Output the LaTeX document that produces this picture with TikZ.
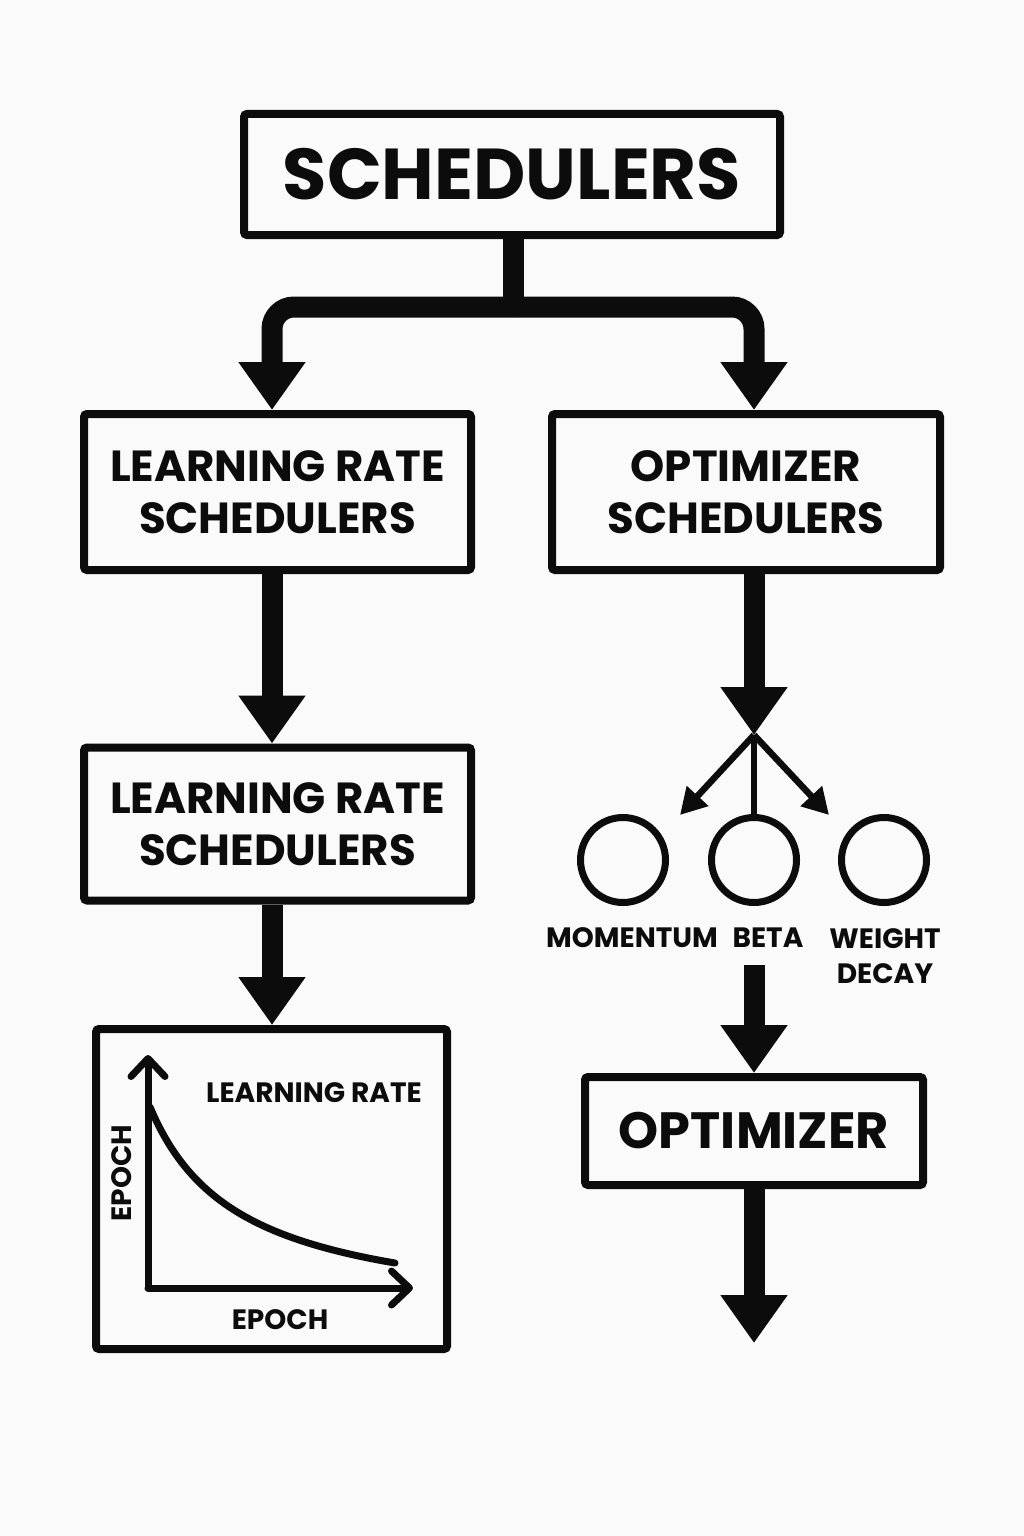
\documentclass[tikz,border=0pt]{standalone}
\usepackage{fontspec}
\setmainfont{Poppins}
\usetikzlibrary{arrows.meta,calc}
\definecolor{bg}{RGB}{250,250,250}
\definecolor{ink}{RGB}{12,12,12}
\tikzset{
  box/.style={draw=ink, line width=8pt, rounded corners=3pt, align=center, inner sep=0pt, text=ink},
  bigarrow/.style={draw=ink, line width=21pt, -{Triangle[length=48pt,width=64pt]}},
  bigline/.style={draw=ink, line width=21pt},
  smallarrow/.style={draw=ink, line width=6.5pt, -{Triangle[length=26pt,width=28pt]}},
  smallline/.style={draw=ink, line width=6.5pt},
  ring/.style={circle, draw=ink, line width=7pt, minimum size=85pt, inner sep=0pt},
  lbl/.style={text=ink, align=center, inner sep=0pt, font=\fontsize{28}{35}\selectfont\bfseries},
  axis/.style={draw=ink, line width=7pt, line cap=round, line join=round, -{Straight Barb[length=18pt,width=34pt,round]}},
  boxtext/.style={font=\fontsize{43.5}{52}\selectfont\bfseries}
}
\begin{document}
\begin{tikzpicture}[x=1pt,y=-1pt]
\useasboundingbox (0,0) rectangle (1024,1536);
\fill[bg] (0,0) rectangle (1024,1536);

% named coordinates
\coordinate (j) at (513,307);
\coordinate (lx) at (272,0);
\coordinate (rx) at (754,0);
\coordinate (hub) at (754,735);
\coordinate (la) at (680,815);
\coordinate (ra) at (829,815);
\coordinate (s2) at (754,965);
\coordinate (endp) at (754,1343);

% boxes
\node[box, minimum width=536pt, minimum height=121pt, font=\fontsize{72}{80}\selectfont\bfseries] (top) at (512,174.5) {SCHEDULERS};
\node[box, boxtext, minimum width=387pt, minimum height=156pt] (lr1) at (277.5,492) {LEARNING RATE\\SCHEDULERS};
\node[box, boxtext, minimum width=388pt, minimum height=156pt] (os) at (746,492) {OPTIMIZER\\SCHEDULERS};
\node[box, boxtext, minimum width=387pt, minimum height=153pt] (lr2) at (277.5,824) {LEARNING RATE\\SCHEDULERS};
\node[box, minimum width=351pt, minimum height=320pt] (chart) at (271.5,1189) {};
\node[box, minimum width=338pt, minimum height=108pt, font=\fontsize{51}{60}\selectfont\bfseries] (opt) at (754,1131) {OPTIMIZER};

% top split
\draw[bigline] (top.south -| j) -- (j);
\draw[bigarrow, rounded corners=22pt] (j) -| (lr1.north -| lx);
\draw[bigarrow, rounded corners=22pt] (j) -| (os.north -| rx);

% left column
\draw[bigarrow] (lr1.south -| lx) -- (lr2.north -| lx);
\draw[bigarrow] (lr2.south -| lx) -- (chart.north -| lx);

% right column
\draw[bigarrow] (os.south -| rx) -- (hub);
\node[ring] (c1) at (623,860) {};
\node[ring] (c2) at (754,860) {};
\node[ring] (c3) at (884,860) {};
\draw[smallarrow] (hub) -- (la);
\draw[smallarrow] (hub) -- (ra);
\draw[smallline] (hub) -- (c2.north);
\node[lbl] (l1) at (632,938) {MOMENTUM};
\node[lbl] (l2) at (768,938) {BETA};
\node[lbl] (l3) at (885,956) {WEIGHT\\DECAY};
\draw[bigarrow] (s2) -- (opt.north);
\draw[bigarrow] (opt.south) -- (endp);

% chart
\coordinate (o) at (148,1288);
\coordinate (yt) at (148,1055);
\coordinate (xt) at (413,1288);
\draw[axis] (o) -- (yt);
\draw[axis] (o) -- (xt);
\draw[ink, line width=7pt, line cap=round] plot[domain=150:395, samples=60, smooth] (\x, {1320.3 - 191.97/(\x/100 - 0.6)});
\node[lbl] (lrt) at (314,1093) {LEARNING RATE};
\node[lbl, rotate=90] (ey) at (122,1173) {EPOCH};
\node[lbl] (ex) at (280,1320) {EPOCH};
\end{tikzpicture}
\end{document}
